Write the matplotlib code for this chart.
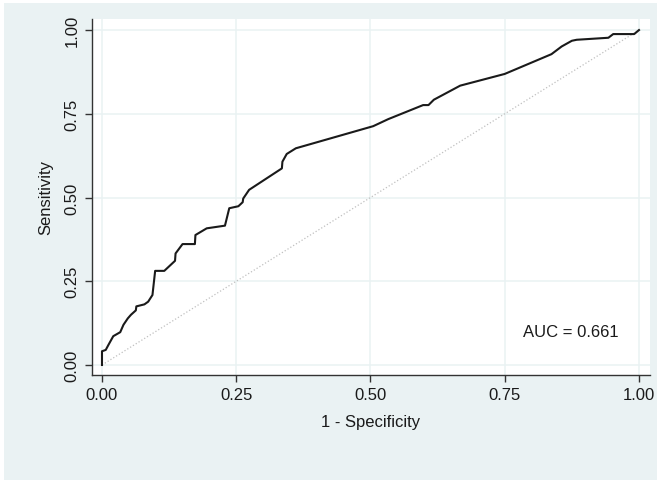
import matplotlib.pyplot as plt
import matplotlib.patches as mpatches

# ROC curve points
fpr = [0.0, 0.0, 0.007, 0.012, 0.021, 0.034, 0.040, 0.048, 0.054, 0.063, 0.064, 0.079, 0.086,
       0.094, 0.099, 0.116, 0.136, 0.137, 0.150, 0.173, 0.174, 0.195, 0.229, 0.237, 0.254,
       0.262, 0.263, 0.274, 0.335, 0.336, 0.344, 0.361, 0.505, 0.533, 0.598, 0.608, 0.618,
       0.667, 0.750, 0.837, 0.856, 0.875, 0.884, 0.943, 0.952, 0.991, 1.0]
tpr = [0.0, 0.041, 0.045, 0.060, 0.086, 0.098, 0.120, 0.139, 0.150, 0.163, 0.175, 0.181, 0.189,
       0.209, 0.281, 0.281, 0.311, 0.333, 0.361, 0.361, 0.388, 0.408, 0.416, 0.468, 0.474,
       0.486, 0.497, 0.523, 0.587, 0.607, 0.630, 0.647, 0.713, 0.734, 0.776, 0.776, 0.792,
       0.834, 0.869, 0.928, 0.951, 0.968, 0.971, 0.977, 0.988, 0.988, 1.0]
ticks = [0.0, 0.25, 0.5, 0.75, 1.0]
tick_labels = ["0.00", "0.25", "0.50", "0.75", "1.00"]
auc_text = "AUC = 0.661"

plt.rcParams['font.family'] = ['Liberation Sans', 'DejaVu Sans']

fig = plt.figure(figsize=(6.57, 4.81), dpi=100, facecolor='white')
# stata-like background panel (top few pixels stay white)
bg = mpatches.Rectangle((4 / 657, 0), 1, 1 - 4 / 481, transform=fig.transFigure,
                        facecolor='#eaf2f3', edgecolor='none', zorder=-10)
fig.add_artist(bg)

ax = fig.add_axes([92 / 657, 1 - 376 / 481, (650 - 92) / 657, (376 - 20) / 481])
ax.set_zorder(1)
ax.set_facecolor('white')

ax.plot([0, 1], [0, 1], linestyle=':', color='#c0c0c0', linewidth=0.9)
ax.plot(fpr, tpr, color='#1a1a1a', linewidth=1.5)

ax.set_xlim(-0.0186, 1.0205)
ax.set_ylim(-0.0299, 1.033)
ax.set_xticks(ticks)
ax.set_xticklabels(tick_labels)
ax.set_yticks(ticks)
ax.set_yticklabels(tick_labels, rotation=90, va='center')
ax.grid(True, color='#eaf2f3', linewidth=1.1)
ax.set_axisbelow(True)

for s in ['top', 'right']:
    ax.spines[s].set_visible(False)
for s in ['left', 'bottom']:
    ax.spines[s].set_color('#333333')
    ax.spines[s].set_linewidth(1.0)
ax.tick_params(axis='both', direction='out', length=5, width=1, color='#333333',
               labelsize=12, labelcolor='#1a1a1a', pad=4)

ax.set_xlabel("1 - Specificity", fontsize=12, color='#1a1a1a', labelpad=8)
ax.set_ylabel("Sensitivity", fontsize=12, color='#1a1a1a', labelpad=8)

ax.text(0.784, 0.10, auc_text, fontsize=12, color='#1a1a1a', va='center', ha='left')

fig.savefig('out.png', dpi=100, facecolor=fig.get_facecolor())
